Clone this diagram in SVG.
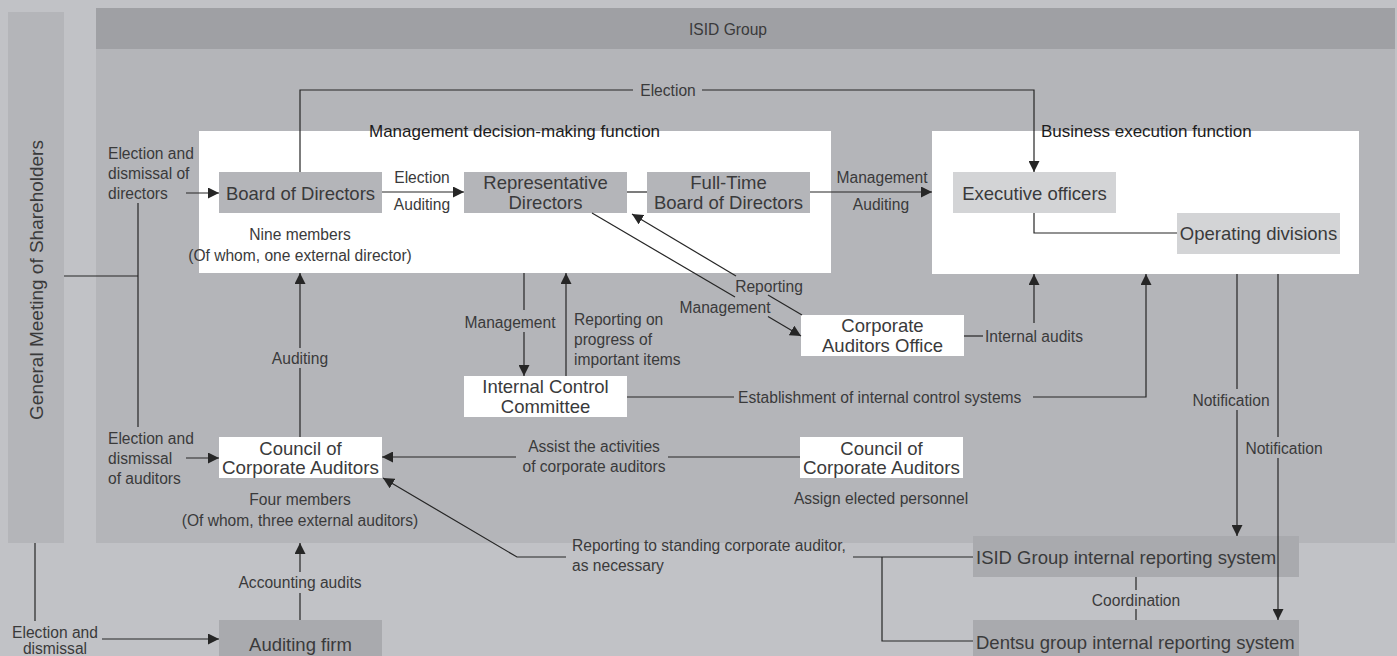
<svg xmlns="http://www.w3.org/2000/svg" width="1397" height="656" viewBox="0 0 1397 656">
<defs>
<style>
text{font-family:"Liberation Sans",Arial,sans-serif;fill:#3a3a3b}
.lbl{font-size:15.6px}
.bx{font-size:18.5px}
.ttl{font-size:17px;fill:#1c1c1c}
.mid{text-anchor:middle}
.ln{stroke:#262626;stroke-width:1.2;fill:none}
.arr{marker-end:url(#ah)}
.gray{fill:#b4b5b9}
.light{fill:#d3d4d6}
.dark{fill:#a9aaae}
.white{fill:#ffffff}
</style>
<marker id="ah" viewBox="0 0 10 10" refX="10" refY="5" markerWidth="11" markerHeight="11" markerUnits="userSpaceOnUse" orient="auto">
<path d="M0,0 L10,5 L0,10 z" fill="#262626"/>
</marker>
</defs>

<g id="background">
<rect x="0" y="0" width="1397" height="656" fill="#c1c2c6"/>
<rect x="96" y="8" width="1299" height="535" class="gray"/>
<rect x="96" y="8" width="1299" height="41" fill="#9fa0a4"/>
<text class="lbl mid" x="728" y="34.5">ISID Group</text>
<rect x="199" y="131" width="632" height="142" class="white"/>
<rect x="932" y="131" width="427" height="143" class="white"/>
<text class="ttl" x="369" y="137">Management decision-making function</text>
<text class="ttl" x="1041" y="137">Business execution function</text>
</g>

<g id="shareholders">
<rect x="8" y="12" width="56" height="531" class="gray"/>
<text class="mid" font-size="19" transform="translate(36,280) rotate(-90)" x="0" y="7">General Meeting of Shareholders</text>
</g>

<g id="board">
<rect x="219" y="172" width="163" height="41" class="gray"/>
<text class="bx mid" x="300.5" y="199.5">Board of Directors</text>
<text class="lbl mid" x="300" y="239.5">Nine members</text>
<text class="lbl mid" x="300" y="260.5">(Of whom, one external director)</text>
</g>

<g id="rep-directors">
<rect x="464" y="172" width="163" height="41" class="gray"/>
<text class="bx mid" x="545.5" y="189">Representative</text>
<text class="bx mid" x="545.5" y="209">Directors</text>
</g>

<g id="fulltime-board">
<rect x="647" y="172" width="163" height="41" class="gray"/>
<text class="bx mid" x="728.5" y="189">Full-Time</text>
<text class="bx mid" x="728.5" y="209">Board of Directors</text>
</g>

<g id="executive-officers">
<rect x="953" y="172" width="163" height="41" class="light"/>
<text class="bx mid" x="1034.5" y="199.5">Executive officers</text>
</g>

<g id="operating-divisions">
<rect x="1177" y="213" width="163" height="41" class="light"/>
<text class="bx mid" x="1258.5" y="240">Operating divisions</text>
</g>

<g id="corporate-auditors-office">
<rect x="801" y="315" width="163" height="41" class="white"/>
<text class="bx mid" x="882.5" y="332">Corporate</text>
<text class="bx mid" x="882.5" y="352">Auditors Office</text>
</g>

<g id="internal-control-committee">
<rect x="464" y="376" width="163" height="41" class="white"/>
<text class="bx mid" x="545.5" y="393">Internal Control</text>
<text class="bx mid" x="545.5" y="413">Committee</text>
</g>

<g id="council-left">
<rect x="219" y="437" width="163" height="41" class="white"/>
<text class="bx mid" x="300.5" y="454.5">Council of</text>
<text class="bx mid" x="300.5" y="474" textLength="157" lengthAdjust="spacingAndGlyphs">Corporate Auditors</text>
<text class="lbl mid" x="300" y="504.5">Four members</text>
<text class="lbl mid" x="300" y="525.5">(Of whom, three external auditors)</text>
</g>

<g id="council-right">
<rect x="800" y="437" width="163" height="41" class="white"/>
<text class="bx mid" x="881.5" y="454.5">Council of</text>
<text class="bx mid" x="881.5" y="474" textLength="157" lengthAdjust="spacingAndGlyphs">Corporate Auditors</text>
<text class="lbl mid" x="881" y="503.5">Assign elected personnel</text>
</g>

<g id="isid-reporting">
<rect x="973" y="536" width="326" height="41" class="dark"/>
<text class="bx" x="976" y="563.5">ISID Group internal reporting system</text>
</g>

<g id="dentsu-reporting">
<rect x="973" y="620" width="326" height="40" class="dark"/>
<text class="bx" x="976" y="648.5">Dentsu group internal reporting system</text>
</g>

<g id="auditing-firm">
<rect x="219" y="620" width="163" height="40" class="dark"/>
<text class="bx mid" x="300.5" y="650.5">Auditing firm</text>
</g>

<g id="connectors">
<path class="ln" d="M300,172 V90 H633"/>
<path class="ln arr" d="M702,90 H1034 V172"/>
<text class="lbl mid" x="668" y="95.5">Election</text>

<path class="ln arr" d="M382,192 H464"/>
<text class="lbl mid" x="422" y="183">Election</text>
<text class="lbl mid" x="422" y="210">Auditing</text>

<path class="ln" d="M627,192 H647"/>

<path class="ln arr" d="M810,192 H932"/>
<text class="lbl mid" x="882" y="183">Management</text>
<text class="lbl mid" x="881" y="209.5">Auditing</text>

<path class="ln" d="M1034,213 V233 H1177"/>

<path class="ln" d="M64,276 H138"/>
<path class="ln" d="M138,203 V427"/>
<path class="ln arr" d="M186,193 H219"/>
<text class="lbl" x="108" y="158.5">Election and</text>
<text class="lbl" x="108" y="178.5">dismissal of</text>
<text class="lbl" x="108" y="198.5">directors</text>

<path class="ln arr" d="M186,458 H219"/>
<text class="lbl" x="108" y="443.5">Election and</text>
<text class="lbl" x="108" y="463.5">dismissal</text>
<text class="lbl" x="108" y="483.5">of auditors</text>

<path class="ln" d="M300,437 V368"/>
<path class="ln arr" d="M300,348 V273"/>
<text class="lbl mid" x="300" y="363.5">Auditing</text>

<path class="ln" d="M300,620 V593"/>
<path class="ln arr" d="M300,572 V543"/>
<text class="lbl mid" x="300" y="587.5">Accounting audits</text>

<path class="ln" d="M35,543 V621"/>
<path class="ln arr" d="M102,639 H219"/>
<text class="lbl mid" x="55" y="638">Election and</text>
<text class="lbl mid" x="55" y="653.5">dismissal</text>

<path class="ln" d="M524,273 V310"/>
<path class="ln arr" d="M524,332 V376"/>
<text class="lbl mid" x="510" y="327.5">Management</text>

<path class="ln arr" d="M566,376 V273"/>
<text class="lbl" x="574" y="324.5">Reporting on</text>
<text class="lbl" x="574" y="344.5">progress of</text>
<text class="lbl" x="574" y="364.5">important items</text>

<path class="ln" d="M592,213 L735,297"/>
<path class="ln arr" d="M768,316.5 L801,336"/>
<text class="lbl mid" x="725" y="312.5">Management</text>

<path class="ln" d="M802,315 L768,295"/>
<path class="ln arr" d="M736,276 L632,214"/>
<text class="lbl mid" x="769" y="291.5">Reporting</text>

<path class="ln" d="M964,336 H983"/>
<path class="ln arr" d="M1034,323 V274"/>
<text class="lbl" x="985" y="341.5">Internal audits</text>

<path class="ln" d="M627,397 H734"/>
<path class="ln arr" d="M1033,397 H1146 V274"/>
<text class="lbl" x="738" y="402.5">Establishment of internal control systems</text>

<path class="ln" d="M800,457 H668"/>
<path class="ln arr" d="M516,457 H382"/>
<text class="lbl mid" x="594" y="451.5">Assist the activities</text>
<text class="lbl mid" x="594" y="471.5">of corporate auditors</text>

<path class="ln arr" d="M566,557 H517 L383,478"/>
<path class="ln" d="M853,557 H973"/>
<path class="ln" d="M882,557 V641 H973"/>
<text class="lbl" x="572" y="550.5">Reporting to standing corporate auditor,</text>
<text class="lbl" x="572" y="570.5">as necessary</text>

<path class="ln" d="M1237,274 V389"/>
<path class="ln arr" d="M1237,410 V536"/>
<text class="lbl mid" x="1231" y="405.5">Notification</text>

<path class="ln" d="M1278,274 V437"/>
<path class="ln arr" d="M1278,458 V620"/>
<text class="lbl mid" x="1284" y="453.5">Notification</text>

<path class="ln" d="M1136,577 V590"/>
<path class="ln" d="M1136,609 V620"/>
<text class="lbl mid" x="1136" y="605.5">Coordination</text>
</g>
</svg>
